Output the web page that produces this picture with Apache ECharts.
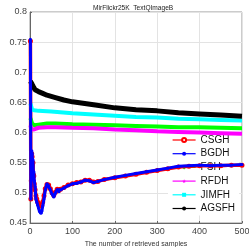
<!DOCTYPE html>
<html>
<head>
<meta charset="utf-8">
<script src="https://cdn.jsdelivr.net/npm/echarts@6/dist/echarts.min.js"></script>
<style>html,body{margin:0;padding:0;background:#fff;}#c{width:249px;height:247px;}</style>
</head>
<body>
<div id="c"></div>
<script>
// ---- data ----
const xTicks = [0, 100, 200, 300, 400, 500];
const yTicks = [0.45, 0.5, 0.55, 0.6, 0.65, 0.7, 0.75, 0.8];

const csghX = [1,2,3,4,5,6,7,8,9,10,12,14,16,18,20,22,24,26,28,30,33,36,40,44,48,52,56,60,64,68,72,80,90,100,110,120,130,140,150,160,175,200,225,250,275,300,325,350,375,400,425,450,475,500];
const csghY = [0.752,0.49,0.52,0.565,0.56,0.545,0.55,0.53,0.528,0.515,0.505,0.495,0.49,0.485,0.482,0.48,0.478,0.478,0.48,0.485,0.495,0.507,0.514,0.513,0.507,0.5,0.496,0.501,0.506,0.504,0.506,0.509,0.513,0.515,0.517,0.518,0.521,0.521,0.518,0.519,0.522,0.525,0.528,0.531,0.534,0.537,0.54,0.543,0.544,0.545,0.545,0.545,0.546,0.546];

const bgdhX = [1,2,3,4,5,6,7,8,9,10,12,14,16,18,20,22,24,26,28,30,33,36,40,44,48,52,56,60,64,68,72,80,90,100,110,120,130,140,150,160,175,200,225,250,275,300,325,350,375,400,425,450,475,500];
const bgdhY = [0.755,0.49,0.53,0.57,0.565,0.55,0.555,0.53,0.535,0.52,0.51,0.49,0.485,0.48,0.475,0.47,0.468,0.466,0.47,0.478,0.49,0.505,0.515,0.512,0.505,0.498,0.493,0.5,0.505,0.502,0.505,0.508,0.512,0.515,0.516,0.518,0.521,0.52,0.517,0.519,0.522,0.526,0.529,0.532,0.535,0.538,0.541,0.544,0.545,0.546,0.545,0.546,0.546,0.547];

const fshX = [1,3,5,10,20,40,60,100,150,200,250,300,350,400,450,500];
const fshY = [0.624,0.622,0.615,0.612,0.613,0.615,0.615,0.614,0.613,0.612,0.611,0.610,0.609,0.609,0.608,0.607];

const rfdhX = [1,3,5,8,12,20,40,60,100,150,200,250,300,350,400,450,500];
const rfdhY = [0.612,0.606,0.603,0.605,0.607,0.608,0.609,0.609,0.608,0.607,0.605,0.604,0.602,0.601,0.600,0.599,0.598];

const jimfhX = [1,3,5,10,20,50,100,150,200,250,300,350,400,450,500];
const jimfhY = [0.648,0.645,0.638,0.637,0.636,0.635,0.632,0.630,0.628,0.626,0.625,0.623,0.622,0.621,0.620];

const agsfhX = [1,3,5,8,12,20,30,40,60,80,100,150,200,250,300,350,400,450,500];
const agsfhY = [0.685,0.684,0.680,0.676,0.671,0.668,0.665,0.662,0.658,0.654,0.651,0.646,0.641,0.638,0.636,0.633,0.631,0.629,0.627];

const names = ['CSGH','BGDH','FSH','RFDH','JIMFH','AGSFH'];
const colors = ['#ff0000','#0000ff','#00ff00','#ff00ff','#00ffff','#000000'];

function zip(xs, ys){ return xs.map((x,i)=>[x, ys[i]]); }

const starPath = 'path://M50,0 L61,35 L98,35 L68,57 L79,91 L50,70 L21,91 L32,57 L2,35 L39,35 Z';

const chart = echarts.init(document.getElementById('c'), null, {renderer:'canvas'});
chart.setOption({
  animation: false,
  title: {
    text: 'MirFlickr25K  TextQImageB',
    left: 88, top: 0,
    textStyle: {fontSize: 6.6, fontWeight: 'normal', color: '#222', fontFamily: 'Liberation Sans'}
  },
  grid: {left: 30, right: 7, top: 12, bottom: 24, containLabel: false, outerBoundsMode: 'none',
         show: true, borderColor: '#999', borderWidth: 1, backgroundColor: 'transparent'},
  legend: {
    orient: 'vertical',
    left: 168, top: 133,
    z: 1,
    backgroundColor: '#ffffff',
    padding: [2, 4, 2, 4],
    itemWidth: 23, itemHeight: 5, itemGap: 3.7,
    lineStyle: {width: 1.2},
    textStyle: {fontSize: 10, lineHeight: 10, color: '#111', fontFamily: 'Liberation Sans'},
    data: names
  },
  xAxis: {
    type: 'value', min: 0, max: 500, interval: 100,
    name: 'The number of retrieved samples', nameLocation: 'middle', nameGap: 15.5,
    nameTextStyle: {fontSize: 7, color: '#333', fontFamily: 'Liberation Sans'},
    axisLine: {show: true, lineStyle: {color: '#666', width: 1}},
    axisTick: {show: true, inside: true, length: 2, lineStyle: {color: '#666'}},
    axisLabel: {fontSize: 9, color: '#444', margin: 4, fontFamily: 'Liberation Sans'},
    splitLine: {show: true, lineStyle: {color: '#e3e3e3', width: 1}}
  },
  yAxis: {
    type: 'value', min: 0.45, max: 0.8, interval: 0.05,
    name: 'Precision @ 32 bits', nameLocation: 'middle', nameGap: 21.5,
    nameTextStyle: {fontSize: 7, color: '#333', fontFamily: 'Liberation Sans'},
    axisLine: {show: true, lineStyle: {color: '#666', width: 1}},
    axisTick: {show: true, inside: true, length: 2, lineStyle: {color: '#666'}},
    axisLabel: {fontSize: 9, color: '#444', margin: 3, fontFamily: 'Liberation Sans',
      formatter: v => String(parseFloat(v.toFixed(2)))},
    splitLine: {show: true, lineStyle: {color: '#e3e3e3', width: 1}}
  },
  series: [
    {name: names[0], type: 'line', data: zip(csghX, csghY), color: colors[0],
     symbol: 'emptyCircle', symbolSize: 3, showSymbol: true,
     lineStyle: {width: 3.5}, itemStyle: {borderWidth: 1}, z: 2},
    {name: names[1], type: 'line', data: zip(bgdhX, bgdhY), color: colors[1],
     symbol: 'circle', symbolSize: 3, showSymbol: true,
     lineStyle: {width: 3}, z: 3},
    {name: names[2], type: 'line', data: zip(fshX, fshY), color: colors[2],
     symbol: 'diamond', symbolSize: 5, showSymbol: false,
     lineStyle: {width: 4}, z: 2},
    {name: names[3], type: 'line', data: zip(rfdhX, rfdhY), color: colors[3],
     symbol: starPath, symbolSize: 5, showSymbol: false,
     lineStyle: {width: 4}, z: 2},
    {name: names[4], type: 'line', data: zip(jimfhX, jimfhY), color: colors[4],
     symbol: 'rect', symbolSize: 4, showSymbol: false,
     lineStyle: {width: 4}, z: 2},
    {name: names[5], type: 'line', data: zip(agsfhX, agsfhY), color: colors[5],
     symbol: 'circle', symbolSize: 4, showSymbol: false,
     lineStyle: {width: 5}, z: 2}
  ]
});
</script>
</body>
</html>
